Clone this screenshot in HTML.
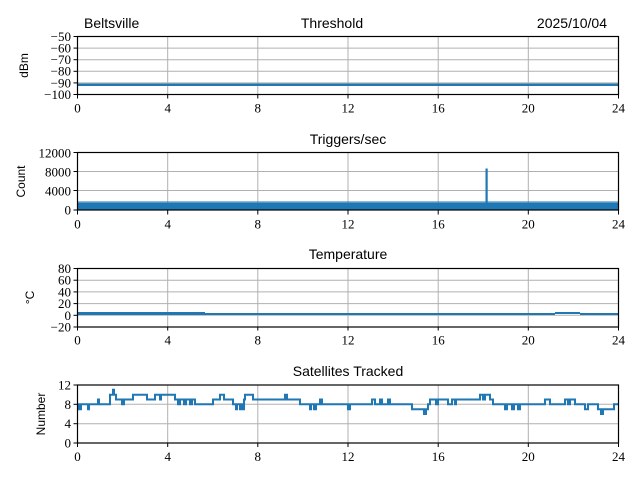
<!DOCTYPE html>
<html><head><meta charset="utf-8"><style>
body{margin:0;background:#fff}
svg{display:block}
.t{font-family:"Liberation Serif","DejaVu Serif",serif;font-size:13px;fill:#000}
.s{font-family:"Liberation Sans","DejaVu Sans",sans-serif;font-size:14px;fill:#000}
.l{font-family:"Liberation Sans","DejaVu Sans",sans-serif;font-size:12px;fill:#000}
.g{stroke:#b0b0b0;stroke-width:1}
.ax{fill:none;stroke:#000;stroke-width:1.2}
</style></head><body>
<svg width="640" height="480" viewBox="0 0 640 480" xmlns="http://www.w3.org/2000/svg">
<defs>
<g id="vg">
<line class="g" x1="167.7" x2="167.7" y1="0" y2="58"/>
<line class="g" x1="257.8" x2="257.8" y1="0" y2="58"/>
<line class="g" x1="348" x2="348" y1="0" y2="58"/>
<line class="g" x1="438.2" x2="438.2" y1="0" y2="58"/>
<line class="g" x1="528.3" x2="528.3" y1="0" y2="58"/>
</g>
<g id="xt">
<g stroke="#000" stroke-width="1">
<line x1="77.5" x2="77.5" y1="58" y2="62"/><line x1="167.7" x2="167.7" y1="58" y2="62"/><line x1="257.8" x2="257.8" y1="58" y2="62"/><line x1="348" x2="348" y1="58" y2="62"/><line x1="438.2" x2="438.2" y1="58" y2="62"/><line x1="528.3" x2="528.3" y1="58" y2="62"/><line x1="618.5" x2="618.5" y1="58" y2="62"/>
</g>
<g class="t" text-anchor="middle">
<text x="77.5" y="76">0</text><text x="167.7" y="76">4</text><text x="257.8" y="76">8</text><text x="348" y="76">12</text><text x="438.2" y="76">16</text><text x="528.3" y="76">20</text><text x="618.5" y="76">24</text>
</g>
</g>
</defs>

<!-- Plot 1 -->
<text class="s" x="84" y="28">Beltsville</text>
<text class="s" x="332" y="28" text-anchor="middle">Threshold</text>
<text class="s" x="607" y="28" text-anchor="end">2025/10/04</text>
<g transform="translate(0,36.5)">
<use href="#vg"/>
<g class="g"><line x1="77.5" x2="618.5" y1="11.6" y2="11.6"/><line x1="77.5" x2="618.5" y1="23.2" y2="23.2"/><line x1="77.5" x2="618.5" y1="34.8" y2="34.8"/><line x1="77.5" x2="618.5" y1="46.4" y2="46.4"/></g>
<line x1="77.5" x2="618.5" y1="48.3" y2="48.3" stroke="#1f77b4" stroke-width="2.5"/>
<rect class="ax" x="77.5" y="0" width="541" height="58"/>
<use href="#xt"/>
<g stroke="#000"><line x1="73.5" x2="77.5" y1="0" y2="0"/><line x1="73.5" x2="77.5" y1="11.6" y2="11.6"/><line x1="73.5" x2="77.5" y1="23.2" y2="23.2"/><line x1="73.5" x2="77.5" y1="34.8" y2="34.8"/><line x1="73.5" x2="77.5" y1="46.4" y2="46.4"/><line x1="73.5" x2="77.5" y1="58" y2="58"/></g>
<g class="t" text-anchor="end"><text x="71" y="4.5">−50</text><text x="71" y="16">−60</text><text x="71" y="27.6">−70</text><text x="71" y="39.2">−80</text><text x="71" y="50.8">−90</text><text x="71" y="62.4">−100</text></g>
<text class="l" transform="translate(28,29) rotate(-90)" text-anchor="middle">dBm</text>
</g>

<!-- Plot 2 -->
<text class="s" x="348" y="144" text-anchor="middle">Triggers/sec</text>
<g transform="translate(0,152.5)">
<use href="#vg"/>
<g class="g"><line x1="77.5" x2="618.5" y1="19" y2="19"/><line x1="77.5" x2="618.5" y1="38" y2="38"/></g>
<rect x="77.5" y="50" width="541" height="8" fill="#1f77b4"/>
<rect x="77.5" y="48.5" width="541" height="2" fill="#1f77b4" opacity="0.5"/>
<rect x="485.5" y="16" width="2.2" height="36" fill="#1f77b4"/>
<rect class="ax" x="77.5" y="0" width="541" height="57.5"/>
<use href="#xt"/>
<g stroke="#000"><line x1="73.5" x2="77.5" y1="0" y2="0"/><line x1="73.5" x2="77.5" y1="19" y2="19"/><line x1="73.5" x2="77.5" y1="38" y2="38"/><line x1="73.5" x2="77.5" y1="57.5" y2="57.5"/></g>
<g class="t" text-anchor="end"><text x="71" y="5">12000</text><text x="71" y="24">8000</text><text x="71" y="43">4000</text><text x="71" y="62">0</text></g>
<text class="l" transform="translate(25,29) rotate(-90)" text-anchor="middle">Count</text>
</g>

<!-- Plot 3 -->
<text class="s" x="348" y="259" text-anchor="middle">Temperature</text>
<g transform="translate(0,268.5)">
<use href="#vg"/>
<g class="g"><line x1="77.5" x2="618.5" y1="11.7" y2="11.7"/><line x1="77.5" x2="618.5" y1="23.4" y2="23.4"/><line x1="77.5" x2="618.5" y1="35.1" y2="35.1"/><line x1="77.5" x2="618.5" y1="46.8" y2="46.8"/></g>
<path d="M77.5 44.5H205M77.5 45.5H205M205 45.5H555M555 44.5H580M580 45.5H618.5" stroke="#1f77b4" stroke-width="2" fill="none"/>
<rect class="ax" x="77.5" y="0" width="541" height="58.5"/>
<use href="#xt"/>
<g stroke="#000"><line x1="73.5" x2="77.5" y1="0" y2="0"/><line x1="73.5" x2="77.5" y1="11.7" y2="11.7"/><line x1="73.5" x2="77.5" y1="23.4" y2="23.4"/><line x1="73.5" x2="77.5" y1="35.1" y2="35.1"/><line x1="73.5" x2="77.5" y1="46.8" y2="46.8"/><line x1="73.5" x2="77.5" y1="58.5" y2="58.5"/></g>
<g class="t" text-anchor="end"><text x="71" y="4.5">80</text><text x="71" y="16.2">60</text><text x="71" y="27.9">40</text><text x="71" y="39.6">20</text><text x="71" y="51.3">0</text><text x="71" y="63">−20</text></g>
<text class="l" transform="translate(34,29) rotate(-90)" text-anchor="middle">°C</text>
</g>

<!-- Plot 4 -->
<text class="s" x="348" y="376" text-anchor="middle">Satellites Tracked</text>
<g transform="translate(0,385)">
<use href="#vg"/>
<g class="g"><line x1="77.5" x2="618.5" y1="19.3" y2="19.3"/><line x1="77.5" x2="618.5" y1="38.7" y2="38.7"/></g>
<path transform="translate(0,-385)" fill="none" stroke="#1f77b4" stroke-width="2" stroke-linejoin="miter" d="
M77.5 404.3H79V409.2H81V404.3H88V409.2H89V404.3H98V399.5H99V404.3H110V394.7H113V389.8H114V394.7H116V399.5H122V404.3H124V399.5H133V394.7H147V399.5H155V394.7H160V399.5H161V394.7H175V399.5H178V404.3H180V399.5H184V404.3H186V399.5H190V404.3H192V399.5H195V404.3H213V399.5H220V394.7H224V399.5H233V404.3H236V409.2H237V404.3H240V409.2H241V404.3H243V409.2H244V399.5H245V394.7H253V399.5H285V394.7H287V399.5H300V404.3H310V409.2H311V404.3H314V409.2H316V404.3H320V399.5H322V404.3H348V409.2H350V404.3H372V399.5H375V404.3H380V399.5H382V404.3H388V399.5H390V404.3H412V409.2H424V414H426V409.2H428V404.3H430V399.5H436V404.3H438V399.5H448V404.3H452V399.5H455V404.3H456V399.5H480V394.7H483V399.5H485V394.7H490V399.5H493V404.3H505V409.2H507V404.3H512V409.2H514V404.3H518V409.2H520V404.3H545V399.5H550V404.3H565V399.5H568V404.3H570V399.5H575V404.3H585V409.2H588V404.3H598V409.2H601V414H603V409.2H614V404.3H618.5"/>
<rect class="ax" x="77.5" y="0" width="541" height="58"/>
<use href="#xt"/>
<g stroke="#000"><line x1="73.5" x2="77.5" y1="0" y2="0"/><line x1="73.5" x2="77.5" y1="19.3" y2="19.3"/><line x1="73.5" x2="77.5" y1="38.7" y2="38.7"/><line x1="73.5" x2="77.5" y1="58" y2="58"/></g>
<g class="t" text-anchor="end"><text x="71" y="4.5">12</text><text x="71" y="23.8">8</text><text x="71" y="43.2">4</text><text x="71" y="62.5">0</text></g>
<text class="l" transform="translate(45,29) rotate(-90)" text-anchor="middle">Number</text>
</g>
</svg>
</body></html>
